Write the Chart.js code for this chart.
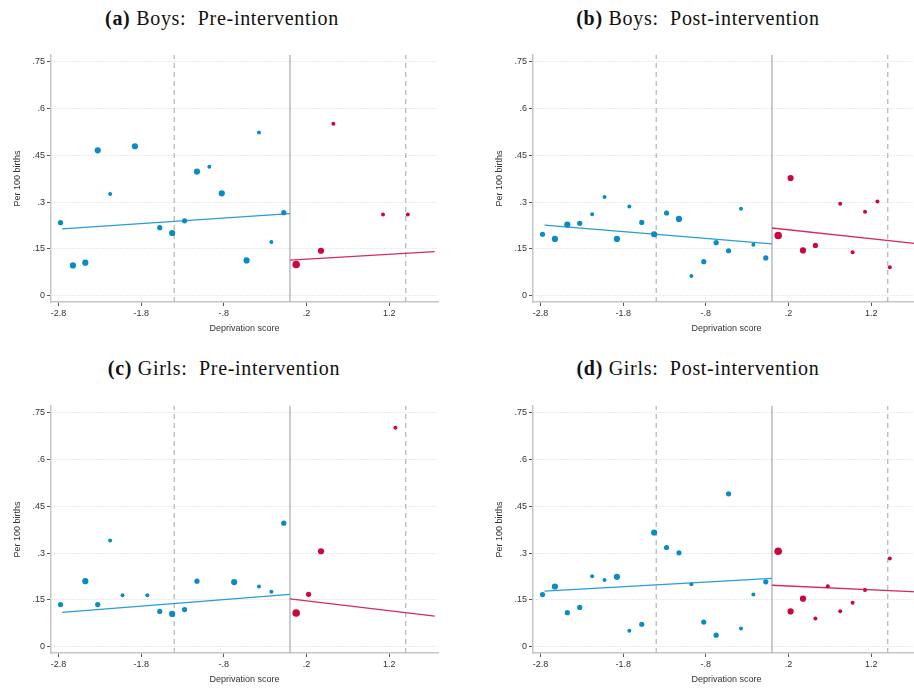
<!DOCTYPE html>
<html>
<head>
<meta charset="utf-8">
<script src="https://cdn.jsdelivr.net/npm/chart.js@4.4.0/dist/chart.umd.min.js"></script>
<style>
  html, body { margin: 0; padding: 0; background: #fff; overflow: hidden; width: 914px; height: 688px; }
  canvas { position: absolute; }
  .ttl { position: absolute; width: 460px; text-align: center; font-family: "Liberation Serif", serif; font-size: 20px; letter-spacing: 0.7px; color: #111; line-height: 22px; }
</style>
</head>
<body>
<div class="ttl" style="left:-8px;top:7px"><b>(a)</b> Boys: &nbsp;Pre-intervention</div>
<div class="ttl" style="left:468px;top:7px"><b>(b)</b> Boys: &nbsp;Post-intervention</div>
<div class="ttl" style="left:-6px;top:357px"><b>(c)</b> Girls: &nbsp;Pre-intervention</div>
<div class="ttl" style="left:468px;top:357px"><b>(d)</b> Girls: &nbsp;Post-intervention</div>
<canvas id="chartA" width="460" height="342" style="left:0;top:0"></canvas>
<canvas id="chartB" width="460" height="342" style="left:482px;top:0"></canvas>
<canvas id="chartC" width="460" height="342" style="left:0;top:351px"></canvas>
<canvas id="chartD" width="460" height="342" style="left:482px;top:351px"></canvas>
<script>
'use strict'

// axes
const xTicks = [-2.8, -1.8, -0.8, 0.2, 1.2]
const yTicks = [0, 0.15, 0.3, 0.45, 0.6, 0.75]
const xRange = [-2.89, 1.79]
const yRange = [-0.0202, 0.7715]
const cutoff = 0
const bandwidth = 1.4

// (a) boys, pre-intervention
const aBlueX = [-2.775, -2.625, -2.475, -2.325, -2.175, -1.875, -1.575, -1.425, -1.275, -1.125, -0.975, -0.825, -0.525, -0.375, -0.225, -0.075]
const aBlueY = [0.234, 0.097, 0.106, 0.466, 0.326, 0.479, 0.218, 0.201, 0.240, 0.398, 0.413, 0.328, 0.113, 0.523, 0.172, 0.266]
const aBlueW = [2, 3, 3, 3, 1, 3, 2, 3, 2, 3, 1, 3, 3, 1, 1, 2]
const aRedX = [0.075, 0.375, 0.525, 1.125, 1.425]
const aRedY = [0.100, 0.144, 0.551, 0.260, 0.260]
const aRedW = [4, 3, 1, 1, 1]
const aFitBlue = [[-2.755, 0.214], [0, 0.263]]
const aFitRed = [[0, 0.114], [1.75, 0.141]]

// (b) boys, post-intervention
const bBlueX = [-2.775, -2.625, -2.475, -2.325, -2.175, -2.025, -1.875, -1.725, -1.575, -1.425, -1.275, -1.125, -0.975, -0.825, -0.675, -0.525, -0.375, -0.225, -0.075]
const bBlueY = [0.197, 0.182, 0.228, 0.232, 0.261, 0.316, 0.182, 0.286, 0.235, 0.197, 0.265, 0.246, 0.063, 0.109, 0.170, 0.144, 0.279, 0.163, 0.121]
const bBlueW = [2, 3, 3, 2, 1, 1, 3, 1, 2, 3, 2, 3, 1, 2, 2, 2, 1, 1, 2]
const bRedX = [0.075, 0.225, 0.375, 0.525, 0.825, 0.975, 1.125, 1.275, 1.425]
const bRedY = [0.193, 0.377, 0.145, 0.161, 0.295, 0.139, 0.269, 0.302, 0.091]
const bRedW = [4, 3, 3, 2, 1, 1, 1, 1, 1]
const bFitBlue = [[-2.75, 0.226], [0, 0.166]]
const bFitRed = [[0, 0.217], [1.75, 0.167]]

// (c) girls, pre-intervention
const cBlueX = [-2.775, -2.475, -2.325, -2.175, -2.025, -1.725, -1.575, -1.425, -1.275, -1.125, -0.675, -0.375, -0.225, -0.075]
const cBlueY = [0.135, 0.210, 0.135, 0.340, 0.165, 0.165, 0.113, 0.105, 0.119, 0.210, 0.207, 0.193, 0.176, 0.396]
const cBlueW = [2, 3, 2, 1, 1, 1, 2, 3, 2, 2, 3, 1, 1, 2]
const cRedX = [0.075, 0.225, 0.375, 1.275]
const cRedY = [0.108, 0.168, 0.306, 0.702]
const cRedW = [4, 2, 3, 1]
const cFitBlue = [[-2.755, 0.110], [0, 0.168]]
const cFitRed = [[0, 0.153], [1.75, 0.098]]

// (d) girls, post-intervention
const dBlueX = [-2.775, -2.625, -2.475, -2.325, -2.175, -2.025, -1.875, -1.725, -1.575, -1.425, -1.275, -1.125, -0.975, -0.825, -0.675, -0.525, -0.375, -0.225, -0.075]
const dBlueY = [0.167, 0.193, 0.109, 0.126, 0.226, 0.214, 0.224, 0.051, 0.072, 0.366, 0.318, 0.301, 0.200, 0.079, 0.037, 0.490, 0.058, 0.167, 0.208]
const dBlueW = [2, 3, 2, 2, 1, 1, 3, 1, 2, 3, 2, 2, 1, 2, 2, 2, 1, 1, 2]
const dRedX = [0.075, 0.225, 0.375, 0.525, 0.675, 0.825, 0.975, 1.125, 1.425]
const dRedY = [0.306, 0.113, 0.154, 0.090, 0.194, 0.114, 0.141, 0.182, 0.283]
const dRedW = [4, 3, 3, 1, 1, 1, 1, 1, 1]
const dFitBlue = [[-2.75, 0.178], [0, 0.219]]
const dFitRed = [[0, 0.197], [1.75, 0.176]]

const BLUE = '#0c8bc2'
const RED = '#c8083e'
const BLUE_LINE = '#2a9dd2'
const RED_LINE = '#d42c5c'
const radius = [0, 2, 2.6, 3.1, 3.8]
const FONT = 'Liberation Sans'

function fmt(v) {
    let s = String(Math.round(v * 100) / 100)
    return s.replace(/^(-?)0\./, '$1.')
}

function pts(xs, ys) {
    return xs.map((x, i) => ({x: x, y: ys[i]}))
}

function dots(xs, ys, ws, color) {
    return {
        data: pts(xs, ys),
        pointRadius: ws.map(w => radius[w]),
        pointBackgroundColor: color,
        pointBorderWidth: 0,
        showLine: false
    }
}

function fit(p, color) {
    return {
        data: p.map(q => ({x: q[0], y: q[1]})),
        borderColor: color,
        borderWidth: 1.3,
        pointRadius: 0,
        showLine: true
    }
}

function vline(x, dash, color) {
    return {
        data: [{x: x, y: yRange[0]}, {x: x, y: yRange[1]}],
        borderColor: color,
        borderWidth: 1.2,
        borderDash: dash,
        pointRadius: 0,
        showLine: true
    }
}

function makePanel(id, bx, by, bw, rx, ry, rw, fb, fr) {
    const ctx = document.querySelector(id).getContext('2d')
    return new Chart(ctx, {
        type: 'scatter',
        data: {
            datasets: [
                dots(bx, by, bw, BLUE),
                dots(rx, ry, rw, RED),
                fit(fb, BLUE_LINE),
                fit(fr, RED_LINE),
                vline(cutoff, [], '#a8a8a8'),
                vline(cutoff - bandwidth, [5, 4], '#b4b4b4'),
                vline(cutoff + bandwidth, [5, 4], '#b4b4b4')
            ]
        },
        options: {
            responsive: false,
            animation: false,
            devicePixelRatio: 1,
            layout: {padding: {left: 0, top: 55, right: 22, bottom: 0}},
            plugins: {legend: {display: false}, tooltip: {enabled: false}},
            scales: {
                x: {
                    type: 'linear', min: xRange[0], max: xRange[1],
                    afterBuildTicks: s => { s.ticks = xTicks.map(v => ({value: v})) },
                    afterFit: s => { s.height = 40 },
                    ticks: {callback: fmt, font: {family: FONT, size: 9}, color: '#333', padding: 2, maxRotation: 0, autoSkip: false},
                    grid: {drawOnChartArea: false, drawTicks: true, tickLength: 4, tickColor: '#555', tickWidth: 1},
                    border: {color: '#c6c6c6', width: 1.5},
                    title: {display: true, text: 'Deprivation score', font: {family: FONT, size: 9}, color: '#333', padding: {top: 4, bottom: 8}}
                },
                y: {
                    type: 'linear', min: yRange[0], max: yRange[1],
                    afterBuildTicks: s => { s.ticks = yTicks.map(v => ({value: v})) },
                    afterFit: s => { s.width = 51 },
                    ticks: {callback: fmt, font: {family: FONT, size: 9}, color: '#333', padding: 2},
                    grid: {color: '#d4d4d4', lineWidth: 1, tickLength: 4, tickColor: '#555', tickWidth: 1, tickBorderDash: []},
                    border: {color: '#c6c6c6', width: 1.5, dash: [1, 2]},
                    title: {display: true, text: 'Per 100 births', font: {family: FONT, size: 9}, color: '#333', padding: {top: 12, bottom: 4}}
                }
            }
        }
    })
}

makePanel('#chartA', aBlueX, aBlueY, aBlueW, aRedX, aRedY, aRedW, aFitBlue, aFitRed)
makePanel('#chartB', bBlueX, bBlueY, bBlueW, bRedX, bRedY, bRedW, bFitBlue, bFitRed)
makePanel('#chartC', cBlueX, cBlueY, cBlueW, cRedX, cRedY, cRedW, cFitBlue, cFitRed)
makePanel('#chartD', dBlueX, dBlueY, dBlueW, dRedX, dRedY, dRedW, dFitBlue, dFitRed)
</script>
</body>
</html>
